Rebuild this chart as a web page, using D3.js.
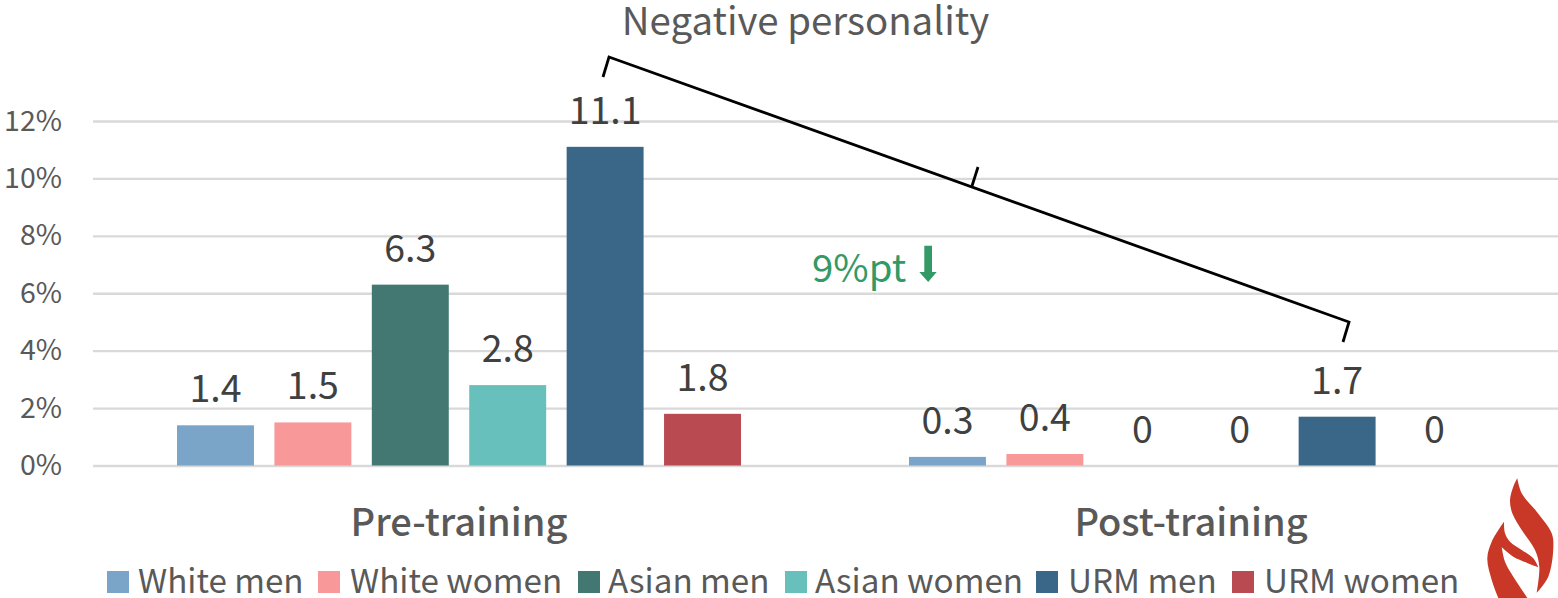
<!DOCTYPE html>
<html><head><meta charset="utf-8">
<script src="https://cdn.jsdelivr.net/npm/d3@7"></script>
<style>html,body{margin:0;padding:0;background:#fff;overflow:hidden}svg{display:block}text{font-family:"Noto Sans CJK SC","Noto Sans",sans-serif}</style>
</head><body><svg id="c" width="1558" height="598"></svg>
<script>
const periods = ["Pre-training","Post-training"];
const groups = ["White men","White women","Asian men","Asian women","URM men","URM women"];
const colors = ["#7aa5c9","#f99898","#437872","#68c0bc","#3a6788","#b94a52"];
const preValues = [1.4,1.5,6.3,2.8,11.1,1.8];
const postValues = [0.3,0.4,0,0,1.7,0];
const seriesByPeriod = [preValues, postValues];
const yTicks = [0,2,4,6,8,10,12];

const svg = d3.select("#c");
const y = d3.scaleLinear().domain([0,12]).range([465.5,121]);
const x0 = d3.scaleBand().domain(periods).range([93,1557]);
const x1 = d3.scaleBand().domain(groups).range([84,648]).paddingInner(0.21);

const yAxis = d3.axisLeft(y).tickValues(yTicks).tickFormat(d=>d+"%").tickSize(-1465).tickPadding(31);
const ya = svg.append("g").attr("transform","translate(93,0)").call(yAxis);
ya.select(".domain").remove();
ya.selectAll("line").attr("stroke","#d9d9d9").attr("stroke-width",2.4);
ya.selectAll("text").attr("fill","#595959").style("font-size","28.5px");

periods.forEach((p,i)=>{
  const g = svg.append("g").attr("transform",`translate(${x0(p)},0)`);
  const vals = seriesByPeriod[i];
  g.selectAll("rect").data(groups).join("rect")
    .attr("x",d=>x1(d)).attr("width",x1.bandwidth())
    .attr("y",(d,j)=>y(vals[j])).attr("height",(d,j)=>y(0)-y(vals[j]))
    .attr("fill",(d,j)=>colors[j]);
  g.selectAll("text").data(groups).join("text")
    .attr("x",d=>x1(d)+x1.bandwidth()/2)
    .attr("y",(d,j)=>y(vals[j])-23)
    .attr("text-anchor","middle").attr("fill","#404040").style("font-size","37.5px")
    .text((d,j)=>vals[j]);
  svg.append("text").attr("x",x0(p)+x0.bandwidth()/2).attr("y",536)
    .attr("text-anchor","middle").attr("fill","#595959")
    .style("font-size","38px").style("font-weight",500).text(p);
});

const legendX = [107,318,578,785,1036,1232];
const legendTextX = [138,350,608,815,1068,1264];
const leg = svg.append("g");
groups.forEach((g,i)=>{
  leg.append("rect").attr("x",legendX[i]).attr("y",571).attr("width",22).attr("height",22).attr("fill",colors[i]);
  leg.append("text").attr("x",legendTextX[i]).attr("y",593).attr("fill","#595959").style("font-size","33.2px").text(g);
});

svg.append("text").attr("x",805.500).attr("y",35).attr("text-anchor","middle").attr("fill","#595959").style("font-size","38.4px").text("Negative personality");
const br = [[603,77],[609,57],[1349,322],[1343,342]];
svg.append("path").attr("d",d3.line()(br)).attr("fill","none").attr("stroke","#000").attr("stroke-width",2.8);
svg.append("path").attr("d",d3.line()([[972,186],[978,167]])).attr("fill","none").attr("stroke","#000").attr("stroke-width",2.8);
svg.append("text").attr("x",812).attr("y",282).attr("fill","#339966").style("font-size","38.4px").text("9%pt");
svg.append("path").attr("fill","#339966").attr("d","M924.300,245.700H932V272H936.700L928.200,282L919.300,272H924.300Z");

// flame logo
const curve = d3.line().curve(d3.curveCatmullRom);
const shape = segs => segs.map((s,i)=>{const d=curve(s);return i?d.replace(/^M/,"L"):d;}).join("")+"Z";
const flameTop = [
  [[1517.3,478.3],[1521.7,493.3],[1536.7,511.7],[1551.7,533.3],[1553.3,548.3],[1548.3,576.7],[1536.7,592.7]],
  [[1536.7,592.7],[1539.3,566.7],[1535,550],[1521.7,530],[1512.3,513.3],[1510,500],[1513.3,486.7],[1517.3,478.3]]
];
const flameLow = [
  [[1504,521.7],[1491.7,541.7],[1487.3,558.3],[1491.7,580],[1498.3,598]],
  [[1527.5,598],[1513.3,576.7],[1505,561.7],[1501.7,547.3]],
  [[1501.7,547.3],[1513.3,556.7],[1526.7,562.7],[1538.3,567.3]],
  [[1538.3,567.3],[1533.3,558.3],[1521.7,550],[1510,541.7],[1505,533.3],[1504,521.7]]
];
svg.append("path").attr("fill","#c93826").attr("d",shape(flameTop));
svg.append("path").attr("fill","#c93826").attr("d",shape(flameLow));
</script></body></html>
